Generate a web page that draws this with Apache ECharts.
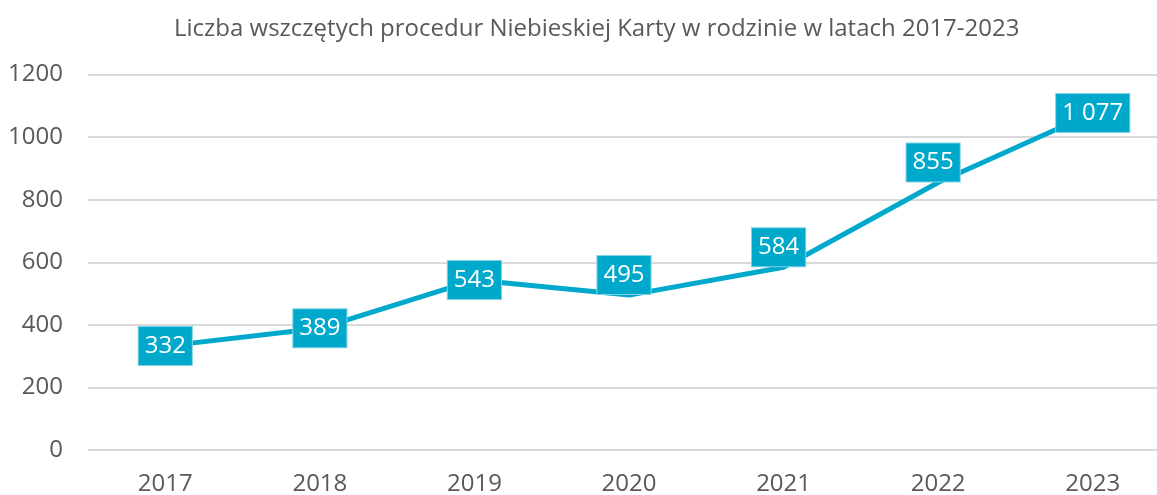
<!DOCTYPE html>
<html>
<head>
    <meta charset="utf-8">
    <script type="text/javascript" src="https://cdn.jsdelivr.net/npm/echarts@6/dist/echarts.min.js"></script>
    <style>
        html, body { margin: 0; padding: 0; background: #fff; }
        #container { width: 1157px; height: 495px; }
    </style>
</head>
<body>
    <div id="container"></div>
<script type="text/javascript">
    var years = ['2017', '2018', '2019', '2020', '2021', '2022', '2023'];
    var counts = [332, 389, 543, 495, 584, 855, 1077];
    var yTicks = [0, 200, 400, 600, 800, 1000, 1200];

    var teal = '#00a9cb';
    var grey = '#595959';

    // etykiety 2020-2022 sa przesuniete nad punkt
    var liftedYears = ['2020', '2021', '2022'];

    function createEcharts() {
        var dom = document.getElementById('container');
        var myChart = echarts.init(dom);
        var data = counts.map(function (v, i) {
            var item = { value: v };
            if (liftedYears.indexOf(years[i]) >= 0) {
                item.label = { offset: [-5, -20] };
            }
            return item;
        });
        var option = {
            animation: false,
            title: {
                text: 'Liczba wszczętych procedur Niebieskiej Karty w rodzinie w latach 2017-2023',
                left: 169,
                top: 12,
                textStyle: {
                    fontFamily: 'Open Sans',
                    fontSize: 24,
                    fontWeight: 'normal',
                    color: grey
                }
            },
            grid: {
                left: 88,
                right: -13,
                top: 74.5,
                bottom: 45,
                containLabel: false,
                outerBoundsMode: 'none'
            },
            xAxis: {
                type: 'category',
                data: years,
                axisLine: { show: false },
                axisTick: { show: false },
                axisLabel: {
                    margin: 22,
                    fontFamily: 'Open Sans',
                    fontSize: 24,
                    color: grey
                }
            },
            yAxis: {
                type: 'value',
                min: yTicks[0],
                max: yTicks[yTicks.length - 1],
                interval: yTicks[1] - yTicks[0],
                axisLine: { show: false },
                axisTick: { show: false },
                splitLine: { lineStyle: { color: '#d9d9d9', width: 2 } },
                axisLabel: {
                    margin: 25,
                    fontFamily: 'Open Sans',
                    fontSize: 24,
                    color: grey,
                    formatter: function (v) { return String(v); }
                }
            },
            series: [{
                type: 'line',
                data: data,
                symbol: 'circle',
                symbolSize: 1,
                lineStyle: { color: teal, width: 5 },
                itemStyle: { color: teal },
                label: {
                    show: true,
                    position: 'inside',
                    backgroundColor: teal,
                    borderColor: '#7fd3e4',
                    borderWidth: 1,
                    padding: [8, 6, 6, 6],
                    color: '#fff',
                    fontFamily: 'Open Sans',
                    fontSize: 24,
                    formatter: function (p) {
                        return String(p.value).replace(/\B(?=(\d{3})+(?!\d))/g, ' ');
                    }
                }
            }]
        };
        myChart.setOption(option, true);
    }

    createEcharts();
</script>
</body>
</html>
